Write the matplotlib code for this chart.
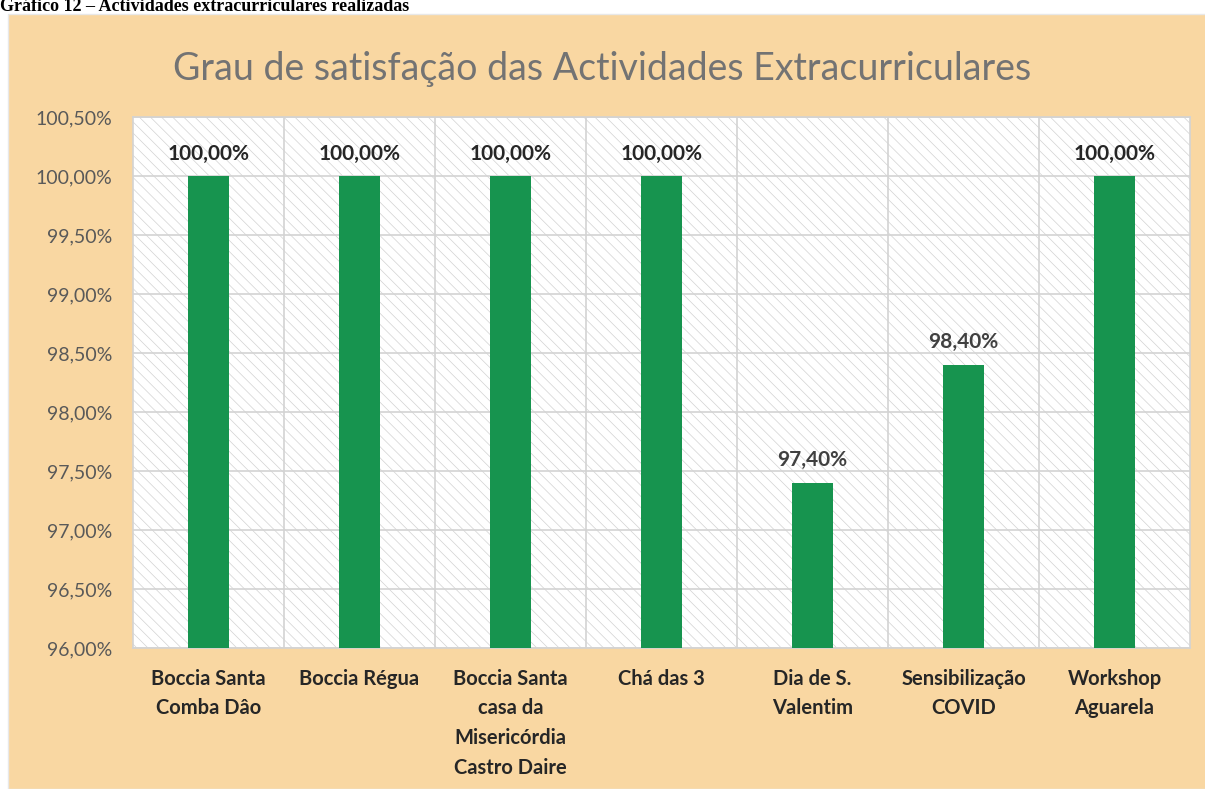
import matplotlib
matplotlib.use('Agg')
import matplotlib.pyplot as plt
from matplotlib.patches import Rectangle

# dados
atividades = ['Boccia Santa\nComba Dâo', 'Boccia Régua', 'Boccia Santa\ncasa da\nMisericórdia\nCastro Daire',
              'Chá das 3', 'Dia de S.\nValentim', 'Sensibilização\nCOVID', 'Workshop\nAguarela']
satisfacao = [100.0, 100.0, 100.0, 100.0, 97.4, 98.4, 100.0]
y_ticks = [96.0, 96.5, 97.0, 97.5, 98.0, 98.5, 99.0, 99.5, 100.0, 100.5]

pessego = '#F9D7A2'
verde = '#17944F'
cinza_grelha = '#D3D3D3'

plt.rcParams['font.family'] = ['Lato', 'DejaVu Sans']
plt.rcParams['hatch.linewidth'] = 0.5
plt.rcParams['hatch.color'] = '#D2D2D2'

fig = plt.figure(figsize=(12.05, 7.89), dpi=100)
fig.patch.set_facecolor('white')

# fundo do grafico
fig.patches.append(Rectangle((8 / 1205, 0), 1, 1 - 14 / 789, transform=fig.transFigure,
                             facecolor=pessego, edgecolor='#E8E8E8', linewidth=1, zorder=-5))

# legenda do documento
fig.text(0.0, 1 - 11 / 789, 'Gráfico 12 – Actividades extracurriculares realizadas',
         fontsize=13, fontweight='bold', family=['Liberation Serif'], ha='left', va='baseline')

ax = fig.add_axes([133 / 1205, 141 / 789, (1190 - 133) / 1205, (648 - 117) / 789])
ax.set_facecolor('white')
ax.add_patch(Rectangle((0, 0), 1, 1, transform=ax.transAxes, facecolor='white',
                       edgecolor='#D2D2D2', hatch='\\\\\\', linewidth=0, zorder=0))

x = list(range(len(atividades)))
ax.bar(x, [v - 96.0 for v in satisfacao], bottom=96.0, width=0.27, color=verde, zorder=3)

ax.set_ylim(96.0, 100.5)
ax.set_xlim(-0.5, len(atividades) - 0.5)
ax.set_yticks(y_ticks)
ax.set_yticklabels([f'{v:.2f}%'.replace('.', ',') for v in y_ticks], fontsize=14, color='#595959')
ax.set_xticks(x)
ax.set_xticklabels(atividades, fontsize=14.5, fontweight='bold', color='#262626', linespacing=1.6, va='top')
ax.set_xticks([i + 0.5 for i in x[:-1]], minor=True)
ax.tick_params(axis='both', which='both', length=0)
ax.tick_params(axis='y', pad=15)
ax.tick_params(axis='x', pad=15)

ax.grid(axis='y', which='major', color=cinza_grelha, linewidth=1.2, zorder=1)
ax.grid(axis='x', which='minor', color=cinza_grelha, linewidth=1.2, zorder=1)
ax.set_axisbelow(True)
for s in ax.spines.values():
    s.set_color(cinza_grelha)
    s.set_linewidth(1.2)

for xi, v in zip(x, satisfacao):
    cor = '#262626' if v >= 100 else '#404040'
    ax.annotate(f'{v:.2f}%'.replace('.', ','), (xi, v), xytext=(0, 9), textcoords='offset points',
                ha='center', va='bottom', fontsize=15, fontweight='bold', color=cor, zorder=4)

fig.text(0.5, 1 - 69 / 789, 'Grau de satisfação das Actividades Extracurriculares',
         fontsize=27, color='#737373', ha='center', va='center')

fig.savefig('out.png', dpi=100, facecolor=fig.get_facecolor())
